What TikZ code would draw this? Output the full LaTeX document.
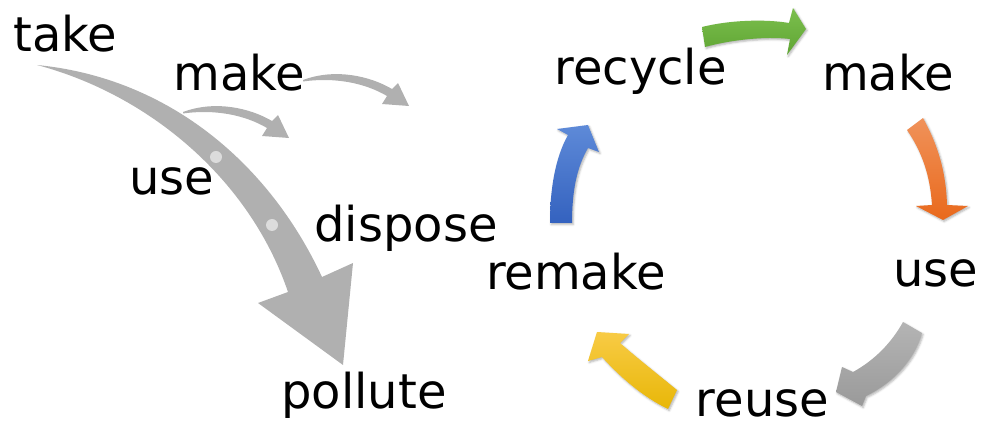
\documentclass[tikz,border=0pt]{standalone}
\usepackage{fontspec}
\setmainfont{DejaVu Sans}
\usetikzlibrary{shadows.blur}

\definecolor{linegray}{HTML}{B0B0B0}
\definecolor{dotgray}{HTML}{DCDCDC}
\definecolor{greenA}{HTML}{7CBF4E}
\definecolor{greenB}{HTML}{5FA533}
\definecolor{orangeA}{HTML}{F0925A}
\definecolor{orangeB}{HTML}{E9691C}
\definecolor{grayA}{HTML}{B4B4B4}
\definecolor{grayB}{HTML}{9A9A9A}
\definecolor{yellowA}{HTML}{F8CB45}
\definecolor{yellowB}{HTML}{E8B708}
\definecolor{blueA}{HTML}{5E8AD8}
\definecolor{blueB}{HTML}{3462BF}

\begin{document}
\begin{tikzpicture}[x=1pt,y=-1pt,
  word/.style={font=\fontsize{48}{58}\selectfont, inner sep=0pt, outer sep=0pt, anchor=base},
  linear/.style={fill=linegray, draw=none},
  loopshadow/.style={blur shadow={shadow xshift=1.2pt, shadow yshift=-1.5pt,
      shadow blur radius=2pt, shadow opacity=30}},
  smallarrow/.pic={
    \fill[linegray] (0,0) .. controls (32,-12) and (67,-4) .. (89,9)
      -- (95,3) -- (106,26) -- (79,24) -- (84,16)
      .. controls (62,3) and (32,-3) .. (0,1.5) -- cycle;
  }]
\useasboundingbox (0,0) rectangle (985,427);

% ---- linear economy: take, make, use, dispose, pollute ----
\node[word] (take)    at (65.5,52)  {take};
\node[word] (makeL)   at (239.5,91) {make};
\node[word] (useL)    at (172,195)  {use};
\node[word] (dispose) at (406,242)  {dispose};
\node[word] (pollute) at (364,408)  {pollute};

% the broad tapering flow arrow
\path[linear] (37,65) .. controls (170,78) and (270,165) .. (322,277)
  -- (353,263) -- (343,365) -- (258,303) -- (288,292)
  .. controls (250,180) and (150,95) .. (37,65) -- cycle;
\fill[dotgray] (216,157) circle (6);
\fill[dotgray] (272,225) circle (6);

% the two thin side arrows
\pic at (183,112) {smallarrow};
\pic at (303,80)  {smallarrow};

% ---- circular economy ----
\node[word] (recycle) at (640.5,85) {recycle};
\node[word] (makeR)   at (888,91)   {make};
\node[word] (useR)    at (936,287)  {use};
\node[word] (reuse)   at (762.5,417) {reuse};
\node[word] (remake)  at (576,290)  {remake};

% recycle -> make
\path[loopshadow, top color=greenA, bottom color=greenB]
  (702,27) .. controls (730,20) and (765,19) .. (789,23)
  -- (793,8) -- (806,29) -- (787,55) -- (790,39)
  .. controls (765,36) and (730,40) .. (705,47) -- cycle;

% make -> use
\path[loopshadow, top color=orangeA, bottom color=orangeB]
  (923,118) .. controls (938,145) and (946,172) .. (947,205)
  -- (968,206) -- (943,220) -- (916,206) -- (932,205)
  .. controls (930,175) and (922,152) .. (907,130) -- cycle;

% use -> reuse
\path[loopshadow, top color=grayA, bottom color=grayB]
  (903,322) .. controls (892,342) and (875,360) .. (853,372)
  -- (842,367) -- (836,392) -- (862,406) -- (866,396)
  .. controls (895,382) and (915,358) .. (922,333) -- cycle;

% reuse -> remake
\path[loopshadow, top color=yellowA, bottom color=yellowB]
  (677,390) .. controls (655,372) and (636,357) .. (620,343)
  -- (629,334) -- (597,332) -- (588,361) -- (602,357)
  .. controls (620,377) and (643,397) .. (668,409) -- cycle;

% remake -> recycle
\path[loopshadow, top color=blueA, bottom color=blueB]
  (550,223) .. controls (550,190) and (555,158) .. (568,135)
  -- (557,129) -- (588,125) -- (599,152) -- (588,148)
  .. controls (577,167) and (572,190) .. (572,223) -- cycle;
\end{tikzpicture}
\end{document}
